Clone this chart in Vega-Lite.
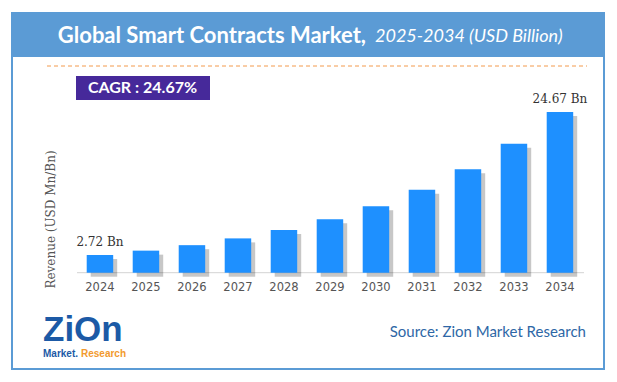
{
  "$schema": "https://vega.github.io/schema/vega-lite/v6.json",
  "autosize": {"type": "none"},
  "width": 592,
  "height": 356,
  "padding": {"left": 12, "top": 13, "right": 13, "bottom": 13},
  "background": "#ffffff",
  "config": {
    "view": {"stroke": "#5B9BD5", "strokeWidth": 2},
    "axis": {"grid": false}
  },
  "layer": [
    {
      "data": {"values": [{}]},
      "layer": [
        {
          "mark": {"type": "rect", "color": "#5B9BD5"},
          "encoding": {
            "x": {"datum": 0, "type": "quantitative", "scale": {"domain": [0, 592], "nice": false, "zero": false}, "axis": null},
            "x2": {"datum": 592},
            "y": {"datum": 0, "type": "quantitative", "scale": {"domain": [0, 356], "reverse": true, "nice": false, "zero": false}, "axis": null},
            "y2": {"datum": 44}
          }
        },
        {
          "mark": {"type": "text", "text": "Global Smart Contracts Market,", "font": "Lato", "fontWeight": "bold", "fontSize": 22, "color": "#ffffff", "align": "right", "baseline": "middle"},
          "encoding": {
            "x": {"datum": 354, "type": "quantitative"},
            "y": {"datum": 22.5, "type": "quantitative"}
          }
        },
        {
          "mark": {"type": "text", "text": "2025-2034 (USD Billion)", "font": "Lato", "fontStyle": "italic", "fontSize": 18, "color": "#ffffff", "align": "left", "baseline": "middle"},
          "encoding": {
            "x": {"datum": 363, "type": "quantitative"},
            "y": {"datum": 24, "type": "quantitative"}
          }
        },
        {
          "mark": {"type": "rule", "color": "#F39A4C", "strokeDash": [4, 3], "strokeWidth": 1},
          "encoding": {
            "x": {"datum": 35, "type": "quantitative"},
            "x2": {"datum": 575},
            "y": {"datum": 53, "type": "quantitative"}
          }
        },
        {
          "mark": {"type": "rect", "color": "#46299A"},
          "encoding": {
            "x": {"datum": 64, "type": "quantitative"},
            "x2": {"datum": 198},
            "y": {"datum": 63, "type": "quantitative"},
            "y2": {"datum": 87}
          }
        },
        {
          "mark": {"type": "text", "text": "CAGR : 24.67%", "font": "Lato", "fontWeight": "bold", "fontSize": 16, "color": "#ffffff", "align": "center", "baseline": "middle"},
          "encoding": {
            "x": {"datum": 130.5, "type": "quantitative"},
            "y": {"datum": 75, "type": "quantitative"}
          }
        },
        {
          "mark": {"type": "rule", "color": "#D3D3D3", "strokeWidth": 1},
          "encoding": {
            "x": {"datum": 65, "type": "quantitative"},
            "x2": {"datum": 572},
            "y": {"datum": 259.7, "type": "quantitative"}
          }
        },
        {
          "mark": {"type": "text", "text": "Source: Zion Market Research", "font": "Lato", "fontSize": 15, "color": "#2E67A6", "align": "right", "baseline": "middle"},
          "encoding": {
            "x": {"datum": 574, "type": "quantitative"},
            "y": {"datum": 319, "type": "quantitative"}
          }
        },
        {
          "mark": {"type": "text", "text": "ZiOn", "font": "Liberation Sans", "fontWeight": "bold", "fontSize": 35, "color": "#1C5AA6", "align": "left", "baseline": "alphabetic"},
          "encoding": {
            "x": {"datum": 31, "type": "quantitative"},
            "y": {"datum": 328, "type": "quantitative"}
          }
        },
        {
          "mark": {"type": "text", "text": "Market.", "font": "Liberation Sans", "fontWeight": "bold", "fontSize": 10, "color": "#1C5AA6", "align": "left", "baseline": "alphabetic"},
          "encoding": {
            "x": {"datum": 31, "type": "quantitative"},
            "y": {"datum": 344, "type": "quantitative"}
          }
        },
        {
          "mark": {"type": "text", "text": "Research", "font": "Liberation Sans", "fontWeight": "bold", "fontSize": 10, "color": "#F29A2E", "align": "left", "baseline": "alphabetic"},
          "encoding": {
            "x": {"datum": 69, "type": "quantitative"},
            "y": {"datum": 344, "type": "quantitative"}
          }
        }
      ]
    },
    {
      "data": {
        "values": [
          {"year": "2024", "value": 2.72, "label": "2.72 Bn"},
          {"year": "2025", "value": 3.39, "label": ""},
          {"year": "2026", "value": 4.23, "label": ""},
          {"year": "2027", "value": 5.27, "label": ""},
          {"year": "2028", "value": 6.57, "label": ""},
          {"year": "2029", "value": 8.19, "label": ""},
          {"year": "2030", "value": 10.21, "label": ""},
          {"year": "2031", "value": 12.73, "label": ""},
          {"year": "2032", "value": 15.87, "label": ""},
          {"year": "2033", "value": 19.79, "label": ""},
          {"year": "2034", "value": 24.67, "label": "24.67 Bn"}
        ]
      },
      "encoding": {
        "x": {
          "field": "year", "type": "nominal",
          "scale": {"range": [74.7, 561.2], "paddingInner": 0.424, "paddingOuter": 0},
          "axis": {
            "title": null, "orient": "bottom", "offset": -96.3, "domain": false, "ticks": false,
            "labelAngle": 0, "labelFont": "DejaVu Sans", "labelFontSize": 11.5, "labelColor": "#555555", "labelPadding": 9
          }
        },
        "y": {
          "field": "value", "type": "quantitative",
          "scale": {"domain": [-14.78, 39.87], "nice": false, "zero": false},
          "axis": {
            "orient": "left",
            "title": "Revenue (USD Mn/Bn)", "domain": false, "ticks": false, "labels": false, "grid": false,
            "titleFont": "DejaVu Serif", "titleFontSize": 12, "titleFontWeight": "normal", "titleColor": "#555555",
            "titleX": 38, "titleY": 206, "titleAngle": 270, "titleAlign": "center", "titleBaseline": "middle"
          }
        }
      },
      "layer": [
        {
          "mark": {"type": "bar", "color": "#000000", "opacity": 0.22, "xOffset": 4, "yOffset": 4}
        },
        {
          "mark": {"type": "bar", "color": "#1E90FF"}
        },
        {
          "mark": {"type": "text", "font": "DejaVu Serif", "fontSize": 12, "color": "#333333", "baseline": "middle", "dy": -13},
          "encoding": {"text": {"field": "label"}}
        }
      ]
    }
  ],
  "resolve": {
    "scale": {"x": "independent", "y": "independent"},
    "axis": {"x": "independent", "y": "independent"}
  }
}
